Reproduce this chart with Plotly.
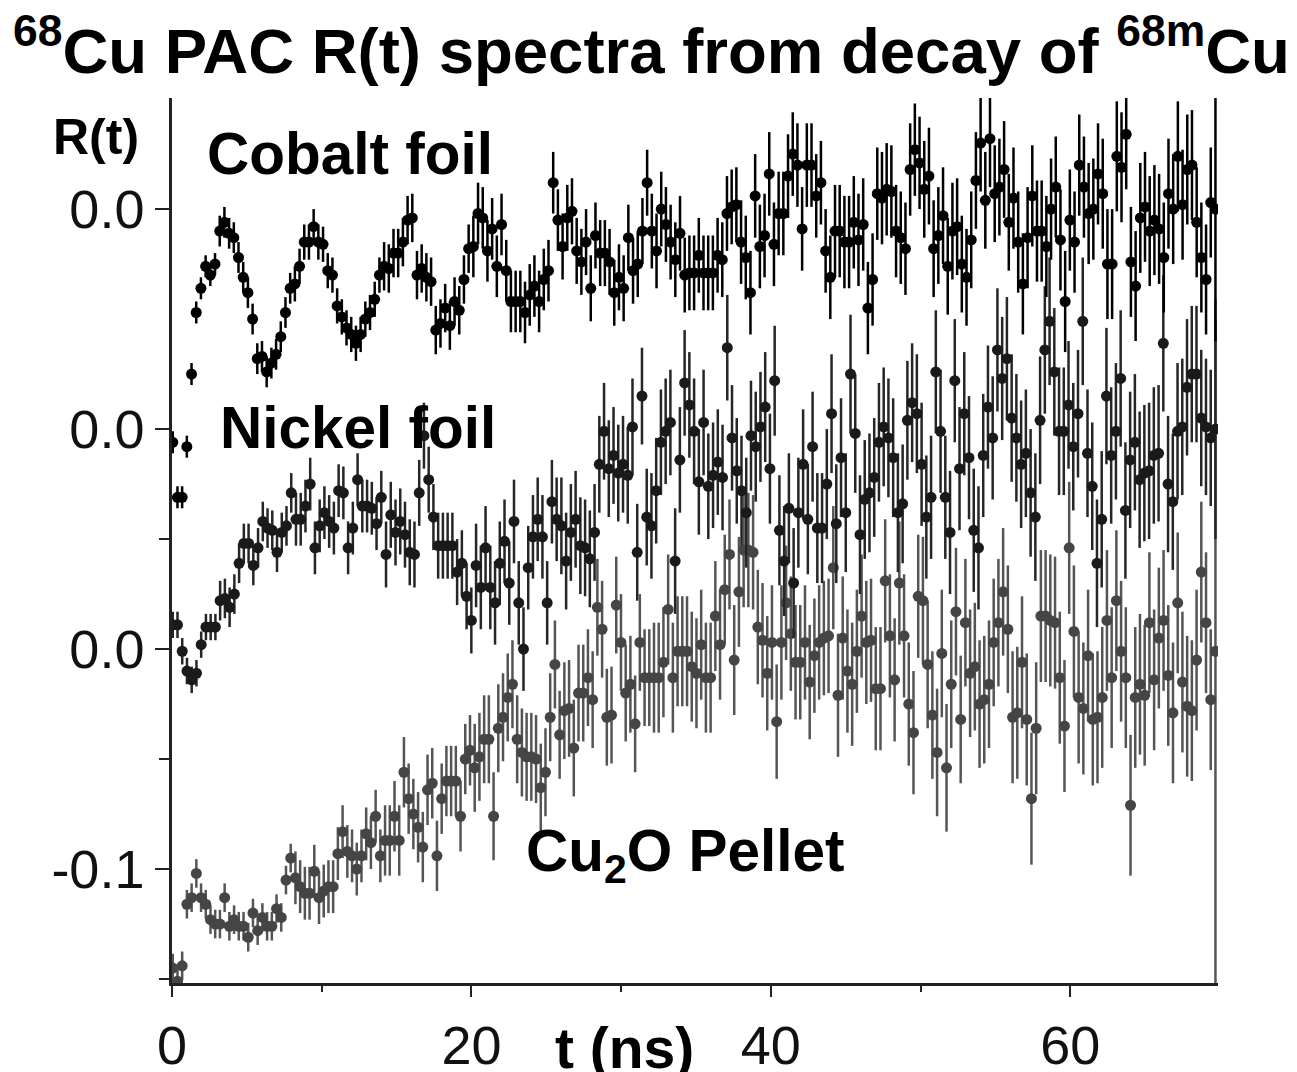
import numpy as np
import plotly.graph_objects as go

# time channels (ns): first and last channel shown
T_FIRST = 0.05
T_LAST = 69.7

# R(t), each spectrum relative to its own "0.0" line
cobalt_r = [
    -0.106, -0.131, -0.131, -0.108,
    -0.075, -0.047, -0.036, -0.026, -0.030, -0.025, -0.010, -0.006, -0.011, -0.013,
    -0.022, -0.031, -0.038, -0.050, -0.068, -0.067, -0.074, -0.070, -0.066, -0.058,
    -0.047, -0.036, -0.034, -0.026, -0.015, -0.015, -0.008, -0.015, -0.016, -0.028,
    -0.030, -0.044, -0.049, -0.054, -0.057, -0.061, -0.057, -0.050, -0.047, -0.041,
    -0.030, -0.026, -0.027, -0.020, -0.020, -0.015, -0.005, -0.004, -0.030, -0.027,
    -0.031, -0.033, -0.055, -0.052, -0.045, -0.053, -0.042, -0.046, -0.032, -0.018,
    -0.017, -0.002, -0.004, -0.019, -0.009, -0.026, -0.007, -0.028, -0.042, -0.042,
    -0.042, -0.047, -0.039, -0.035, -0.042, -0.032, -0.028, 0.012, -0.005, -0.017,
    -0.004, -0.001, -0.019, -0.024, -0.015, -0.036, -0.012, -0.020, -0.020, -0.024,
    -0.038, -0.031, -0.036, -0.013, -0.028, -0.025, -0.010, 0.012, -0.010, -0.019,
    0.000, -0.007, -0.015, -0.023, -0.011, -0.030, -0.029, -0.029, -0.021, -0.029,
    -0.029, -0.029, -0.021, -0.023, -0.002, 0.001, 0.002, -0.015, -0.022, -0.038,
    0.006, -0.017, -0.012, 0.016, -0.016, -0.002, -0.002, 0.015, 0.025, 0.020,
    -0.009, 0.020, 0.020, 0.006, 0.012, -0.019, -0.031, -0.010, -0.010, -0.015,
    -0.015, -0.006, -0.014, -0.007, -0.045, -0.032, 0.007,
    0.005, 0.009, 0.008, -0.010, -0.013, -0.018, 0.018, 0.027, 0.021, 0.009,
    0.015, -0.018, -0.012, -0.003, -0.026, -0.010, -0.008, -0.025, -0.031, -0.014,
    0.013, 0.030, 0.004, 0.032, 0.007, 0.010, 0.018, -0.006, 0.005, -0.015,
    -0.034, -0.013, 0.006, -0.010, -0.010, -0.017, 0.000, 0.010, -0.014, -0.042,
    -0.005, -0.015, 0.020, 0.010, -0.002, 0.000, 0.016, 0.007, -0.025, -0.025,
    0.024, 0.019, 0.034, -0.024, -0.035, -0.004, 0.001, -0.010, -0.005, -0.009,
    -0.022, 0.007, 0.000, 0.024, 0.002, 0.018, 0.020, -0.006, -0.022, -0.032,
    0.003, 0.000,
]

nickel_r = [
    -0.089, -0.089, -0.101, -0.110, -0.114, -0.111, -0.098, -0.090, -0.090, -0.090,
    -0.078, -0.077, -0.081, -0.075, -0.061, -0.052, -0.052, -0.062, -0.054, -0.042,
    -0.045, -0.046, -0.056, -0.047, -0.044, -0.029, -0.041, -0.041, -0.035, -0.025,
    -0.054, -0.044, -0.038, -0.042, -0.045, -0.028, -0.029, -0.054, -0.045, -0.023,
    -0.035, -0.035, -0.036, -0.043, -0.031, -0.057, -0.039, -0.047, -0.042, -0.048,
    -0.056, -0.057, -0.029, -0.003, -0.023, -0.040, -0.053, -0.053, -0.053, -0.053,
    -0.065, -0.061, -0.076, -0.087, -0.062, -0.072, -0.054, -0.072, -0.079, -0.061,
    -0.051, -0.070, -0.042,
    -0.079, -0.100, -0.063, -0.049, -0.041, -0.049, -0.079, -0.033, -0.041, -0.044,
    -0.060, -0.047, -0.041, -0.053, -0.054, -0.059, -0.047, -0.016, -0.001, -0.018,
    -0.012, -0.020, -0.016, -0.021, 0.001, -0.056, 0.015, -0.040, -0.044, -0.028,
    -0.006, -0.001, 0.003, -0.060, -0.014, 0.021, 0.011, -0.001, -0.024, 0.003,
    -0.026, -0.021, -0.015, -0.022, 0.037, -0.004, -0.019, -0.028, -0.038, -0.003,
    -0.008, 0.001, 0.010, -0.018, 0.022, -0.046, -0.060, -0.036, -0.070, -0.038,
    -0.016, -0.041, -0.008, -0.045, -0.045, -0.025, 0.007, -0.043, -0.013, -0.038,
    0.025, -0.002, -0.048, -0.032, -0.029,
    -0.022, -0.006, 0.001, -0.004, -0.013, -0.038, -0.034, 0.004, 0.012, 0.007,
    -0.016, -0.040, -0.031, 0.026, -0.001, -0.031, -0.047, 0.022, -0.018, 0.007,
    -0.013, -0.046, -0.054, -0.012, 0.010, -0.004, 0.036, 0.023, 0.032, 0.005,
    -0.004, -0.016, -0.011, -0.029, -0.040, 0.004, 0.036, 0.049, 0.026, -0.001,
    -0.001, 0.011, -0.008, 0.007, 0.049, -0.011, -0.026, -0.061, -0.041, 0.015,
    -0.012, -0.001, 0.023, -0.037, -0.014, -0.006, -0.023, -0.020, -0.019, -0.012,
    -0.011, 0.039, -0.025, -0.033, -0.001, 0.001, 0.019, 0.025, 0.025, 0.005,
    0.001, -0.004, 0.000,
]

cu2o_r = [
    -0.145, -0.151, -0.144, -0.116, -0.113, -0.102, -0.113, -0.116, -0.123, -0.125,
    -0.125, -0.113, -0.126, -0.123, -0.126, -0.126, -0.131, -0.120, -0.128, -0.122,
    -0.126, -0.126, -0.118, -0.122, -0.105, -0.095, -0.104, -0.108, -0.111, -0.111,
    -0.101, -0.113, -0.110, -0.108, -0.108, -0.093, -0.083, -0.092, -0.094, -0.100,
    -0.094, -0.084, -0.088, -0.076, -0.094, -0.087, -0.087, -0.076, -0.087, -0.056,
    -0.068, -0.075, -0.081, -0.090, -0.064, -0.061, -0.094, -0.068, -0.060, -0.060,
    -0.060, -0.076, -0.050, -0.046, -0.054, -0.049, -0.041, -0.041, -0.076, -0.036,
    -0.031, -0.022, -0.016, -0.041,
    -0.047, -0.049, -0.049, -0.050, -0.063, -0.056, -0.031, -0.007, -0.039, -0.028,
    -0.027, -0.045, -0.020, -0.020, -0.013, -0.023, 0.019, 0.009, -0.031, -0.030,
    0.020, 0.003, -0.020, -0.016, -0.034, 0.003, -0.013, -0.013, -0.013, -0.013,
    -0.006, 0.018, -0.013, -0.001, -0.001, -0.001, -0.008, -0.011, 0.002, -0.013,
    -0.013, 0.015, 0.002, 0.027, 0.043, -0.005, 0.026, 0.045, 0.045, 0.044,
    0.010, 0.004, -0.011, 0.003, -0.033, 0.003, 0.021, 0.007, -0.006, -0.006,
    0.003, -0.015, -0.003, 0.003, 0.005, 0.006, 0.037, -0.021, 0.005, -0.010,
    -0.016, -0.001, 0.015, 0.003, 0.004,
    -0.018, -0.018, 0.031, 0.006, -0.014, 0.030, 0.006, -0.025, -0.038, 0.024,
    0.022, -0.007, -0.030, -0.047, -0.002, -0.054, -0.016, 0.017, -0.032, 0.012,
    -0.011, -0.008, -0.025, -0.023, -0.016, 0.003, 0.012, 0.026, 0.009, -0.031,
    -0.029, -0.006, -0.032, -0.068, -0.036, 0.015, 0.015, 0.013, 0.012, -0.013,
    -0.035, 0.046, 0.008, -0.022, -0.027, -0.003, -0.032, -0.031, -0.022, 0.013,
    -0.013, 0.022, -0.001, -0.013, -0.071, -0.022, -0.016, -0.021, 0.012, -0.014,
    0.005, 0.013, -0.012, -0.029, 0.021, -0.015, -0.026, -0.028, -0.005, 0.035,
    0.012, -0.023, -0.001,
]

# each spectrum is shifted up by 0.1 so the three sit on top of each other
offset_cobalt = 0.2
offset_nickel = 0.1
offset_cu2o = 0.0

# error bar half length, read per time band (ns); last band is the final channel
band_edges = [0, 3, 8, 14, 20, 26, 32, 38, 44, 50, 56, 62, 69.5]
cobalt_err = [0.005, 0.007, 0.008, 0.011, 0.014, 0.015, 0.017, 0.019, 0.021, 0.022, 0.023, 0.025, 0.06]
nickel_err = [0.006, 0.009, 0.012, 0.015, 0.019, 0.022, 0.024, 0.025, 0.027, 0.028, 0.029, 0.031, 0.05]
cu2o_err = [0.0065, 0.0065, 0.012, 0.016, 0.020, 0.022, 0.025, 0.026, 0.028, 0.029, 0.030, 0.032, 0.16]

x_ticks = [0, 20, 40, 60]
x_minor = [10, 30, 50]
y_ticks = [-0.1, 0.0, 0.1, 0.2]
y_ticktext = ['-0.1', '0.0', '0.0', '0.0']
y_minor = [-0.15, -0.05, 0.05]

X_RANGE = [0, 69.87]
Y_RANGE = [-0.1518, 0.2505]

FONT = 'Liberation Sans, Arial, sans-serif'
LINE = '#222222'


def spectrum(r, offset, band_err, color, bar_color):
    t = np.linspace(T_FIRST, T_LAST, len(r))
    idx = np.searchsorted(band_edges, t, side='right') - 1
    err = np.array(band_err)[idx]
    return go.Scatter(x=t, y=np.array(r) + offset, mode='markers',
                      marker=dict(size=11, color=color),
                      error_y=dict(type='data', array=err, thickness=2.5, width=0, color=bar_color),
                      hoverinfo='skip')


fig = go.Figure()
# bottom spectrum first so the darker ones sit on top
fig.add_trace(spectrum(cu2o_r, offset_cu2o, cu2o_err, '#454545', '#555555'))
fig.add_trace(spectrum(nickel_r, offset_nickel, nickel_err, '#1a1a1a', '#262626'))
fig.add_trace(spectrum(cobalt_r, offset_cobalt, cobalt_err, '#000000', '#000000'))

axis_common = dict(showgrid=False, zeroline=False, showline=True, linewidth=2.5, linecolor=LINE,
                   tickwidth=2, tickcolor=LINE, automargin=False)

# the page body adds an 8 px margin, so the figure is a bit smaller than the window
fig.update_layout(
    width=1285, height=1064,
    margin=dict(l=164, r=75, t=90, b=89),
    plot_bgcolor='white', paper_bgcolor='white',
    showlegend=False,
    font=dict(family=FONT, color='#111111'),
    xaxis=dict(range=X_RANGE, tickmode='array', tickvals=x_ticks, ticks='outside', ticklen=11,
               minor=dict(tickmode='array', tickvals=x_minor, ticks='outside', ticklen=6,
                          tickwidth=2, tickcolor=LINE),
               tickfont=dict(size=54), ticklabelstandoff=2, **axis_common),
    xaxis2=dict(range=X_RANGE, overlaying='x', anchor='y', side='top', tickmode='array',
                tickvals=x_minor + x_ticks[1:], ticks='inside', ticklen=9, showticklabels=False,
                **axis_common),
    yaxis=dict(range=Y_RANGE, tickmode='array', tickvals=y_ticks, ticktext=y_ticktext,
               ticks='outside', ticklen=14,
               minor=dict(tickmode='array', tickvals=y_minor, ticks='outside', ticklen=10,
                          tickwidth=2, tickcolor=LINE),
               tickfont=dict(size=54), ticklabelstandoff=0, **axis_common),
    yaxis2=dict(range=Y_RANGE, overlaying='y', anchor='x', side='right', tickmode='array',
                tickvals=y_ticks, ticks='inside', ticklen=9, showticklabels=False,
                **axis_common),
)

# title and labels
fig.add_annotation(text='<b><sup>68</sup>Cu PAC R(t) spectra from decay of <sup>68m</sup>Cu</b>',
                   xref='paper', yref='paper', x=0.458, y=1.106, xanchor='center', yanchor='top',
                   showarrow=False, font=dict(size=63.5, color='#000000'))
fig.add_annotation(text='<b>R(t)</b>', xref='paper', yref='paper', x=-0.0727, y=0.956,
                   xanchor='center', yanchor='middle', showarrow=False, font=dict(size=50, color='#000000'))
fig.add_annotation(text='<b>t (ns)</b>', xref='paper', yref='paper', x=0.433, y=-0.074,
                   xanchor='center', yanchor='middle', showarrow=False, font=dict(size=57, color='#000000'))

fig.add_annotation(text='<b>Cobalt foil</b>', x=11.9, y=0.2255, showarrow=False,
                   font=dict(size=58.5, color='#000000'))
fig.add_annotation(text='<b>Nickel foil</b>', x=12.4, y=0.1005, showarrow=False,
                   font=dict(size=58.5, color='#000000'))
fig.add_annotation(text='<b>Cu<sub>2</sub>O Pellet</b>', x=34.3, y=-0.0936, showarrow=False,
                   font=dict(size=58.5, color='#000000'))

fig.write_html("out.html")
